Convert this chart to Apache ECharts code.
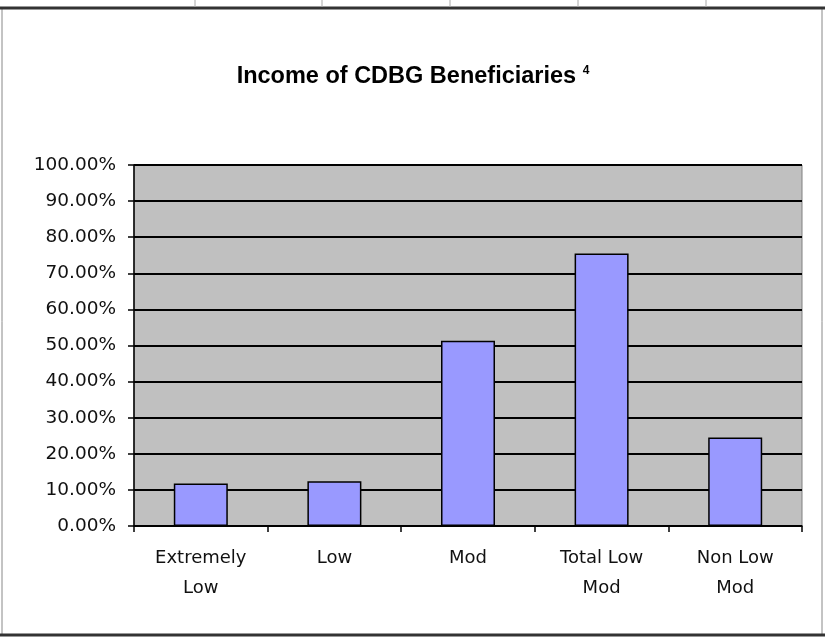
<!DOCTYPE html>
<html><head><meta charset="utf-8">
<script src="https://cdn.jsdelivr.net/npm/echarts@6/dist/echarts.min.js"></script>
<style>html,body{margin:0;padding:0;background:#fff}#c{width:825px;height:638px}</style>
</head><body><div id="c"></div>
<script>
const categories = ['Extremely\nLow', 'Low', 'Mod', 'Total Low\nMod', 'Non Low\nMod'];
const values = [11.8, 12.4, 51.3, 75.5, 24.5];
const yTicks = [0, 10, 20, 30, 40, 50, 60, 70, 80, 90, 100];

const chart = echarts.init(document.getElementById('c'));
const topCellX = [195, 322, 450, 578, 706];
const graphics = [
  {type:'rect', shape:{x:2, y:8, width:820, height:627}, style:{fill:'none', stroke:'#888', lineWidth:1}, z:-1},
  {type:'line', shape:{x1:0, y1:8, x2:825, y2:8}, style:{stroke:'#333', lineWidth:3}},
  {type:'line', shape:{x1:0, y1:635, x2:825, y2:635}, style:{stroke:'#333', lineWidth:3}}
];
topCellX.forEach(x => graphics.push({type:'line', shape:{x1:x, y1:0, x2:x, y2:7}, style:{stroke:'#aaa', lineWidth:1}}));

chart.setOption({
  animation: false,
  backgroundColor: '#fff',
  title: {
    text: '{t|Income of CDBG Beneficiaries }{s|4}',
    left: 408, top: 60, textAlign: 'center',
    textStyle: {
      rich: {
        t: {fontFamily: 'Liberation Sans', fontWeight: 'bold', fontSize: 23.5, color: '#000'},
        s: {fontFamily: 'Liberation Sans', fontWeight: 'bold', fontSize: 12, color: '#000', verticalAlign: 'top', padding:[0,0,12,0]}
      }
    }
  },
  graphic: graphics,
  grid: {left: 134, top: 165, width: 668, height: 361, show: true, backgroundColor: '#C0C0C0', borderColor: '#808080', borderWidth: 1},
  xAxis: {
    type: 'category', data: categories,
    axisLine: {show: true, lineStyle: {color: '#000', width: 1.5}},
    axisTick: {show: true, length: 6, lineStyle: {color: '#000', width: 1.5}},
    axisLabel: {fontFamily: 'DejaVu Sans', fontSize: 18, color: '#111', lineHeight: 30, margin: 17}
  },
  yAxis: {
    type: 'value', min: 0, max: 100, interval: 10,
    axisLine: {show: true, lineStyle: {color: '#000', width: 1.5}},
    axisTick: {show: true, length: 6, lineStyle: {color: '#000', width: 1.5}},
    splitLine: {show: true, lineStyle: {color: '#000', width: 1.8}},
    axisLabel: {fontFamily: 'DejaVu Sans', fontSize: 18.5, color: '#111', margin: 18,
      formatter: v => yTicks.includes(v) ? v.toFixed(2) + '%' : ''}
  },
  series: [{
    type: 'bar', data: values, barWidth: 54,
    itemStyle: {color: '#9999FF', borderColor: '#000', borderWidth: 1.5}
  }]
});
</script></body></html>
